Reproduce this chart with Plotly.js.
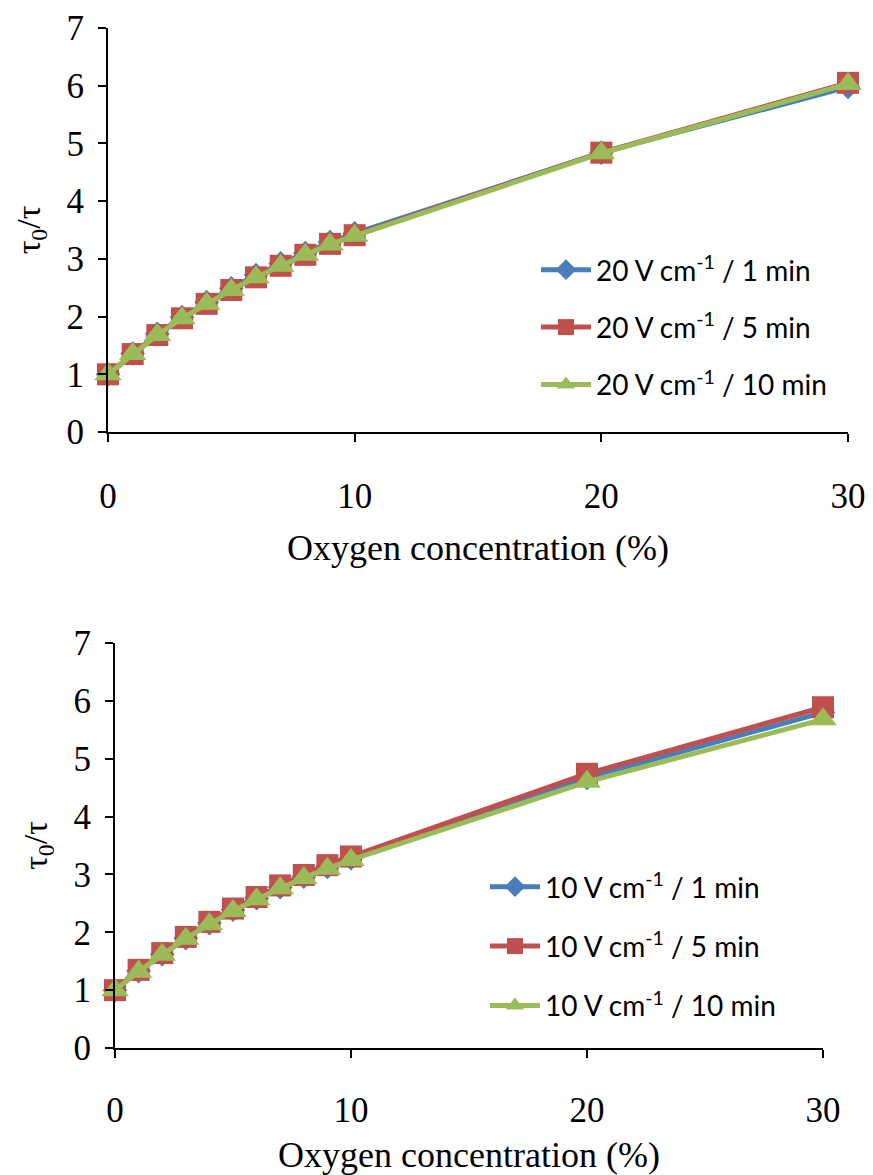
<!DOCTYPE html>
<html>
<head>
<meta charset="utf-8">
<script src="https://cdn.plot.ly/plotly-3.0.1.min.js"></script>
<style>html,body{margin:0;padding:0;background:#fff}#chart{width:873px;height:1175px}</style>
</head>
<body>
<div id="chart"></div>
<script>
const oxygen = [0,1,2,3,4,5,6,7,8,9,10,20,30];

const top1min  = [1, 1.36, 1.70, 1.99, 2.25, 2.49, 2.72, 2.92, 3.10, 3.29, 3.44, 4.84, 5.98];
const top5min  = [1, 1.35, 1.68, 1.97, 2.22, 2.46, 2.68, 2.88, 3.07, 3.26, 3.41, 4.84, 6.05];
const top10min = [1, 1.35, 1.68, 1.97, 2.22, 2.46, 2.68, 2.88, 3.07, 3.25, 3.40, 4.83, 6.03];

const bot1min  = [1, 1.33, 1.62, 1.90, 2.16, 2.39, 2.59, 2.78, 2.96, 3.13, 3.28, 4.67, 5.80];
const bot5min  = [1, 1.35, 1.64, 1.92, 2.18, 2.41, 2.61, 2.81, 2.99, 3.16, 3.31, 4.74, 5.89];
const bot10min = [1, 1.32, 1.61, 1.89, 2.14, 2.37, 2.57, 2.76, 2.94, 3.10, 3.25, 4.60, 5.68];

const topNames = ['20 V cm<sup>-1</sup> / 1 min', '20 V cm<sup>-1</sup> / 5 min', '20 V cm<sup>-1</sup> / 10 min'];
const botNames = ['10 V cm<sup>-1</sup> / 1 min', '10 V cm<sup>-1</sup> / 5 min', '10 V cm<sup>-1</sup> / 10 min'];
const yTicks = [0,1,2,3,4,5,6,7];
const xTicks = [0,10,20,30];

const colors = ['#4A7EBB', '#C0504D', '#9BBB59'];
const symbols = ['diamond', 'square', 'triangle-up'];
const sizes = [19, 22, 24];

function mk(y, i, name, xa, ya, leg) {
  return {
    x: oxygen, y: y, name: name, type: 'scatter', mode: 'lines+markers',
    xaxis: xa, yaxis: ya, legend: leg, legendgroup: leg + i,
    cliponaxis: false,
    line: {color: colors[i], width: 5},
    marker: {symbol: symbols[i], size: sizes[i], color: colors[i]}
  };
}

const data = [
  mk(top1min, 0, topNames[0], 'x', 'y', 'legend'),
  mk(top5min, 1, topNames[1], 'x', 'y', 'legend'),
  mk(top10min, 2, topNames[2], 'x', 'y', 'legend'),
  mk(bot1min, 0, botNames[0], 'x2', 'y2', 'legend2'),
  mk(bot5min, 1, botNames[1], 'x2', 'y2', 'legend2'),
  mk(bot10min, 2, botNames[2], 'x2', 'y2', 'legend2')
];

const serif = 'Liberation Serif, Times New Roman, serif';
const tickFont = {family: serif, size: 35, color: '#000'};

function xax(domain, anchor, lstand, tstand) {
  return {
    domain: domain, anchor: anchor, range: [0, 30], tickvals: xTicks,
    showline: true, linecolor: '#000', linewidth: 2, ticks: 'outside', ticklen: 8,
    tickwidth: 2, tickcolor: '#000', showgrid: false, zeroline: false,
    tickfont: tickFont, ticklabelstandoff: lstand,
    title: {text: 'Oxygen concentration (%)', font: {family: serif, size: 36, color: '#000'}, standoff: tstand}
  };
}
function yax(domain, anchor) {
  return {
    domain: domain, anchor: anchor, range: [0, 7], tickvals: yTicks,
    showline: true, linecolor: '#000', linewidth: 2, ticks: 'outside', ticklen: 8,
    tickwidth: 2, tickcolor: '#000', showgrid: false, zeroline: false,
    tickfont: tickFont, ticklabelstandoff: 7,
    title: {text: 'τ<sub>0</sub>/τ', font: {family: serif, size: 34, color: '#000'}, standoff: 16}
  };
}

const legFont = {family: 'Lato, Open Sans, sans-serif', size: 28, color: '#000'};

const layout = {
  width: 873, height: 1175,
  margin: {l: 0, r: 0, t: 0, b: 0},
  paper_bgcolor: '#fff', plot_bgcolor: '#fff',
  showlegend: true,
  xaxis: xax([108/873, 848/873], 'y', 24, 20),
  yaxis: yax([1 - 432/1175, 1 - 28/1175], 'x'),
  xaxis2: xax([115/873, 823/873], 'y2', 22, 15),
  yaxis2: yax([1 - 1048/1175, 1 - 643/1175], 'x2'),
  legend: {x: 536/873, y: 1 - 245/1175, xanchor: 'left', yanchor: 'top', font: legFont,
           bgcolor: 'rgba(0,0,0,0)', tracegroupgap: 18, itemwidth: 50},
  legend2: {x: 485/873, y: 1 - 862/1175, xanchor: 'left', yanchor: 'top', font: legFont,
            bgcolor: 'rgba(0,0,0,0)', tracegroupgap: 20, itemwidth: 50}
};

Plotly.newPlot('chart', data, layout, {displayModeBar: false, staticPlot: true});
</script>
</body>
</html>
